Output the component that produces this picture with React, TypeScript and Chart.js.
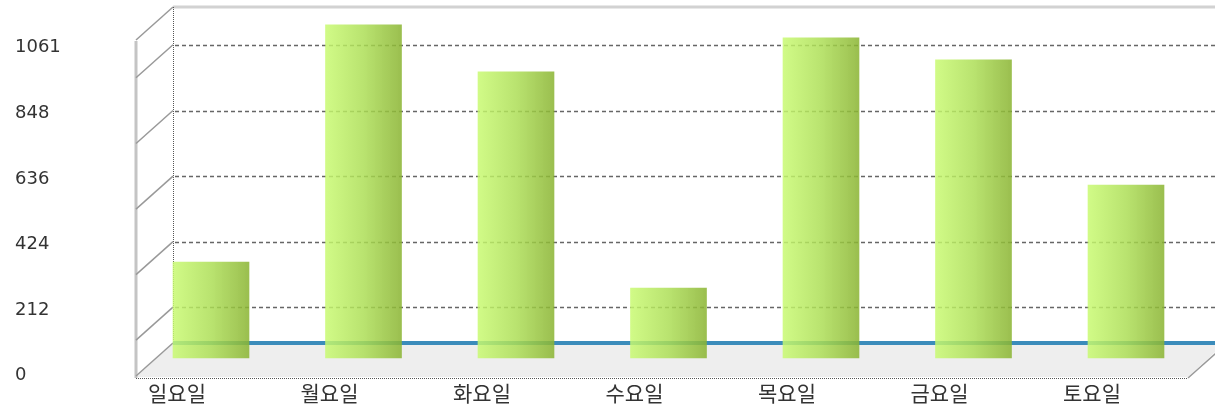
import React, { useEffect, useRef } from "react";
import { Chart, registerables } from "chart.js";

Chart.register(...registerables);

const categories = ["일요일", "월요일", "화요일", "수요일", "목요일", "금요일", "토요일"];
const visits = [358, 1125, 973, 274, 1083, 1012, 607];
const tickValues = [0, 212, 424, 636, 848, 1061];
const tickLabels = ["0", "212", "424", "636", "848", "1061"];
const axisMax = 1183;
const barBase = 47.5;

const W = 1215;
const H = 407;

// pseudo-3D frame geometry (pixels)
const BACK_LEFT = 173;
const FRONT_LEFT = 136;
const DEPTH_X = 37;
const DEPTH_Y = 33;
const WALL_TOP = 7;
const FLOOR_BACK = 343;
const FLOOR_FRONT = 377;

const framePlugin = {
  id: "frame3d",
  beforeDatasetsDraw(chart: any) {
    const ctx = chart.ctx as CanvasRenderingContext2D;
    const yScale = chart.scales.y;
    const right = chart.width;
    const frontRight = right - 27;
    ctx.save();

    // floor
    ctx.fillStyle = "#eeeeee";
    ctx.beginPath();
    ctx.moveTo(BACK_LEFT, FLOOR_BACK);
    ctx.lineTo(frontRight + DEPTH_X, FLOOR_BACK);
    ctx.lineTo(frontRight, FLOOR_FRONT);
    ctx.lineTo(FRONT_LEFT, FLOOR_FRONT);
    ctx.closePath();
    ctx.fill();

    // top back edge
    ctx.strokeStyle = "#d2d2d2";
    ctx.lineWidth = 3;
    ctx.beginPath();
    ctx.moveTo(BACK_LEFT, WALL_TOP);
    ctx.lineTo(right, WALL_TOP);
    ctx.stroke();

    // left front vertical
    ctx.strokeStyle = "#c4c4c4";
    ctx.lineWidth = 3;
    ctx.beginPath();
    ctx.moveTo(FRONT_LEFT, WALL_TOP + DEPTH_Y + 1);
    ctx.lineTo(FRONT_LEFT, FLOOR_FRONT + 1);
    ctx.stroke();

    // diagonals on left wall
    ctx.strokeStyle = "#999999";
    ctx.lineWidth = 1.5;
    const diagYs = [WALL_TOP, FLOOR_BACK];
    tickValues.forEach((v) => {
      if (v > 0) diagYs.push(yScale.getPixelForValue(v));
    });
    diagYs.forEach((y) => {
      ctx.beginPath();
      ctx.moveTo(FRONT_LEFT, y + DEPTH_Y);
      ctx.lineTo(BACK_LEFT, y);
      ctx.stroke();
    });
    // right floor diagonal
    ctx.beginPath();
    ctx.moveTo(frontRight, FLOOR_FRONT + 1);
    ctx.lineTo(frontRight + DEPTH_X, FLOOR_FRONT + 1 - DEPTH_Y);
    ctx.stroke();

    // back wall dotted vertical
    ctx.strokeStyle = "#555555";
    ctx.lineWidth = 1;
    ctx.setLineDash([1, 1]);
    ctx.beginPath();
    ctx.moveTo(BACK_LEFT + 0.5, WALL_TOP);
    ctx.lineTo(BACK_LEFT + 0.5, FLOOR_BACK);
    ctx.stroke();
    // front floor dotted edge
    ctx.beginPath();
    ctx.moveTo(FRONT_LEFT, FLOOR_FRONT + 1.5);
    ctx.lineTo(frontRight, FLOOR_FRONT + 1.5);
    ctx.stroke();

    // dashed gridlines
    ctx.strokeStyle = "#666666";
    ctx.lineWidth = 1.5;
    ctx.setLineDash([4, 3]);
    tickValues.forEach((v) => {
      if (v <= 0) return;
      const y = Math.round(yScale.getPixelForValue(v)) + 0.5;
      ctx.beginPath();
      ctx.moveTo(BACK_LEFT + 2, y);
      ctx.lineTo(right, y);
      ctx.stroke();
    });
    ctx.setLineDash([]);

    // blue baseline
    ctx.strokeStyle = "#3b8cbb";
    ctx.lineWidth = 4;
    ctx.beginPath();
    ctx.moveTo(BACK_LEFT, FLOOR_BACK);
    ctx.lineTo(right, FLOOR_BACK);
    ctx.stroke();

    ctx.restore();
  },
};

function barGradient(context: any) {
  const chart = context.chart;
  const xs = chart.scales && chart.scales.x;
  if (!chart.chartArea || !xs) return "rgba(170,220,90,0.85)";
  const cx = xs.getPixelForValue(context.dataIndex);
  const g = chart.ctx.createLinearGradient(cx - 38, 0, cx + 38, 0);
  g.addColorStop(0, "rgba(200,250,112,0.84)");
  g.addColorStop(0.5, "rgba(172,222,84,0.84)");
  g.addColorStop(1, "rgba(138,180,50,0.86)");
  return g;
}

export default function App() {
  const ref = useRef<HTMLCanvasElement | null>(null);

  useEffect(() => {
    if (!ref.current) return;
    const chart = new Chart(ref.current, {
      type: "bar",
      data: {
        labels: categories,
        datasets: [
          {
            data: visits,
            base: barBase,
            backgroundColor: barGradient,
            borderWidth: 0,
            barThickness: 76,
          } as any,
        ],
      },
      options: {
        responsive: false,
        animation: false,
        layout: { padding: { left: 15, top: WALL_TOP, right: 12.75, bottom: 0 } },
        plugins: {
          legend: { display: false },
          tooltip: { enabled: false },
        },
        scales: {
          x: {
            offset: true,
            grid: { display: false, drawTicks: false },
            border: { display: false },
            ticks: {
              labelOffset: -34,
              padding: 8,
              color: "#333333",
              maxRotation: 0,
              autoSkip: false,
              font: { family: "'Noto Sans CJK KR'", size: 21 },
            },
            afterFit(scale: any) {
              scale.height = H - 372.7;
              scale.paddingLeft = 0;
              scale.paddingRight = 0;
            },
          },
          y: {
            min: 0,
            max: axisMax,
            grid: { display: false, drawTicks: false },
            border: { display: false },
            afterBuildTicks(scale: any) {
              scale.ticks = tickValues.map((v) => ({ value: v }));
            },
            ticks: {
              crossAlign: "far",
              labelOffset: 3,
              color: "#333333",
              font: { family: "'DejaVu Sans'", size: 18 },
              callback: (_v: any, i: number) => tickLabels[i],
            },
            afterFit(scale: any) {
              scale.width = 134.75 - 15;
              scale.paddingTop = 0;
              scale.paddingBottom = 0;
            },
          },
        },
      },
      plugins: [framePlugin],
    });
    return () => chart.destroy();
  }, []);

  return (
    <div style={{ position: "fixed", left: 0, top: 0, width: W, height: H, background: "#ffffff" }}>
      <canvas ref={ref} width={W} height={H} style={{ width: W, height: H, display: "block" }} />
    </div>
  );
}
